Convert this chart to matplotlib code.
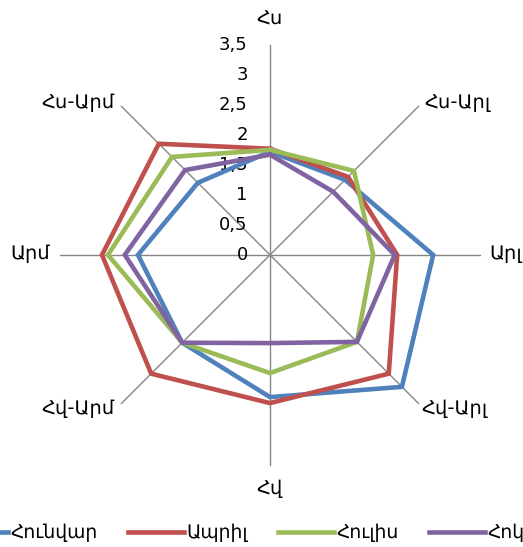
import numpy as np
import matplotlib.pyplot as plt

# directions, clockwise from north
directions = ['Հս', 'Հս-Արլ', 'Արլ', 'Հվ-Արլ', 'Հվ', 'Հվ-Արմ', 'Արմ', 'Հս-Արմ']
months = ['Հունվար', 'Ապրիլ', 'Հուլիս', 'Հոկտեմբեր']

jan = [1.72, 1.77, 2.72, 3.11, 2.37, 2.07, 2.20, 1.70]
apr = [1.77, 1.84, 2.12, 2.80, 2.47, 2.80, 2.80, 2.62]
jul = [1.75, 1.98, 1.72, 2.05, 1.97, 2.07, 2.70, 2.31]
oct_ = [1.67, 1.49, 2.08, 2.05, 1.47, 2.07, 2.42, 2.00]

r_ticks = [0, 0.5, 1, 1.5, 2, 2.5, 3, 3.5]
r_labels = ['0', '0,5', '1', '1,5', '2', '2,5', '3', '3,5']

colors = ['#4F81BD', '#C0504D', '#9BBB59', '#8064A2']

fig = plt.figure(figsize=(5.23, 5.47), dpi=100)
ax = fig.add_axes([0.1147, 0.150, 0.803, 0.768], projection='polar')
ax.set_theta_offset(np.pi / 2)
ax.set_theta_direction(-1)
ax.set_ylim(0, 3.5)
ax.grid(False)
ax.spines['polar'].set_visible(False)
ax.set_xticks([])
ax.set_yticks([])

angles = np.arange(len(directions)) * 2 * np.pi / len(directions)

# spokes
for th in angles:
    ax.plot([th, th], [0, 3.5], color='#868686', lw=1.0, zorder=1, clip_on=False)

# radial tick labels left of the vertical axis
for v, s in zip(r_ticks, r_labels):
    ax.annotate(s, xy=(0, v), xytext=(-16, 0), textcoords='offset points',
                ha='right', va='center', fontsize=13)

# data
lines = []
for vals, c, name in zip([jan, apr, jul, oct_], colors, months):
    th = np.append(angles, angles[0])
    rr = np.append(vals, vals[0])
    ln, = ax.plot(th, rr, color=c, lw=3.3, label=name, zorder=3,
                  solid_joinstyle='miter', clip_on=False)
    lines.append(ln)

# direction labels
offsets = [(0, 19, 'center'), (4, 3, 'left'), (7, 1, 'left'), (2, -4, 'left'),
           (0, -17, 'center'), (-5, -4, 'right'), (-7, 1, 'right'), (-5, 3, 'right')]
for th, name, (dx, dy, ha) in zip(angles, directions, offsets):
    ax.annotate(name, xy=(th, 3.5), xytext=(dx, dy), textcoords='offset points',
                ha=ha, va='center', fontsize=14, annotation_clip=False)

fig.legend(handles=lines, loc='center', bbox_to_anchor=(0.5295, 0.026), ncol=4,
           frameon=False, fontsize=13.5, handlelength=3.0, handletextpad=0.12,
           columnspacing=1.6)

fig.savefig('out.png', dpi=100)
